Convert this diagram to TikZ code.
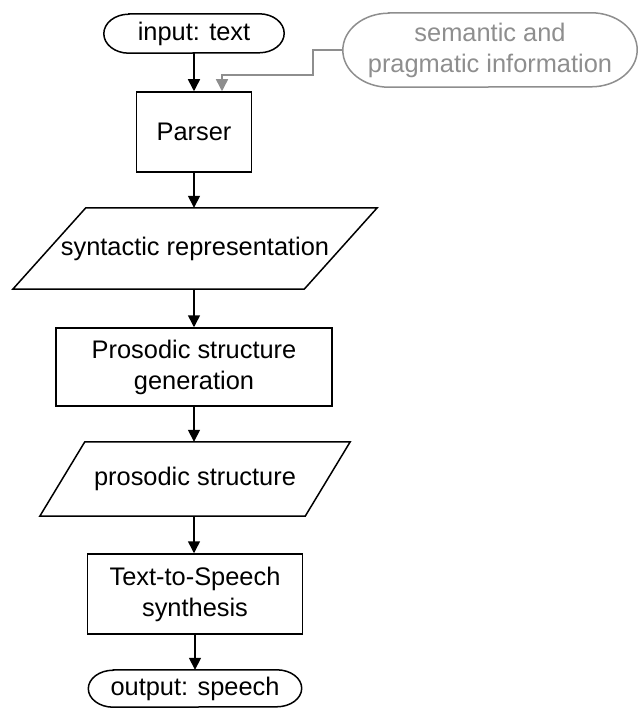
\documentclass[tikz,border=0pt]{standalone}
\usepackage{fontspec}
\setmainfont{Liberation Sans}
\usetikzlibrary{arrows.meta}
\definecolor{infogrey}{HTML}{8E8E8E}
% outline of a terminal: straight top and bottom, elliptical ends
% #1 node name, #2 horizontal radius of the ends, #3 half height, #4 draw options
\newcommand\termoutline[4]{%
  \begin{scope}[y=1pt]
    \draw[#4] ([xshift=#2pt]#1.north west) -- ([xshift=-#2pt]#1.north east)
      arc[start angle=90,end angle=-90,x radius=#2,y radius=#3]
      -- ([xshift=#2pt]#1.south west)
      arc[start angle=270,end angle=90,x radius=#2,y radius=#3] -- cycle;
  \end{scope}}
\begin{document}
\begin{tikzpicture}[x=1pt,y=-1pt,
  every node/.style={font=\fontsize{25.4}{31}\selectfont, align=center, inner sep=0pt},
  terminal/.style={draw=none, rectangle},
  procbox/.style={draw, line width=1.5pt, rectangle},
  iobody/.style={draw=none, rectangle},
  ioline/.style={line width=1.5pt, line join=miter},
  flow/.style={line width=1.5pt, -{Triangle[width=12pt,length=12pt]}},
  sideflow/.style={line width=1.5pt, draw=infogrey, -{Triangle[width=12pt,length=12pt]}, color=infogrey},
]
\useasboundingbox (0,0) rectangle (639,708);

% terminals and processing steps
\node[terminal, minimum width=180pt, minimum height=39pt] (in) at (194,33.5) {input: text};
\node[terminal, text=infogrey, minimum width=294pt, minimum height=74pt] (sem) at (490,50) {semantic and\\pragmatic information};
\node[procbox, minimum width=115pt, minimum height=80pt] (parser) at (194,132) {Parser};
\node[iobody, minimum width=364pt, minimum height=81pt] (syn) at (195,248.5) {syntactic representation};
\node[procbox, minimum width=276pt, minimum height=78pt] (pros) at (194,367) {Prosodic structure\\generation};
\node[iobody, minimum width=310pt, minimum height=74pt] (ps) at (195,479) {prosodic structure};
\node[procbox, minimum width=215pt, minimum height=80pt] (tts) at (195,594) {Text-to-Speech\\synthesis};
\node[terminal, minimum width=213pt, minimum height=37pt] (out) at (195,688.5) {output: speech};

% terminal outlines
\termoutline{in}{25}{19.5}{ioline}
\termoutline{out}{25}{18.5}{ioline}
\termoutline{sem}{46}{37}{ioline,draw=infogrey}

% parallelogram outlines for the data nodes
\draw[ioline] (syn.south west) -- ([xshift=-73pt]syn.south east) -- (syn.north east)
  -- ([xshift=73pt]syn.north west) -- cycle;
\draw[ioline] (ps.south west) -- ([xshift=-45pt]ps.south east) -- (ps.north east)
  -- ([xshift=45pt]ps.north west) -- cycle;

% main flow
\draw[flow] (in.south) -- (in.south |- parser.north);
\draw[flow] (parser.south) -- (parser.south |- syn.north);
\draw[flow] (parser.south |- syn.south) -- (parser.south |- pros.north);
\draw[flow] (pros.south) -- (pros.south |- ps.north);
\draw[flow] (pros.south |- ps.south) -- (pros.south |- tts.north);
\draw[flow] (tts.south) -- (tts.south |- out.north);

% side input into the parser
\draw[sideflow] (sem.west) -- ++(-30pt,0) |- ([xshift=28pt,yshift=16pt]parser.north)
  -- ([xshift=28pt]parser.north);
\end{tikzpicture}
\end{document}
